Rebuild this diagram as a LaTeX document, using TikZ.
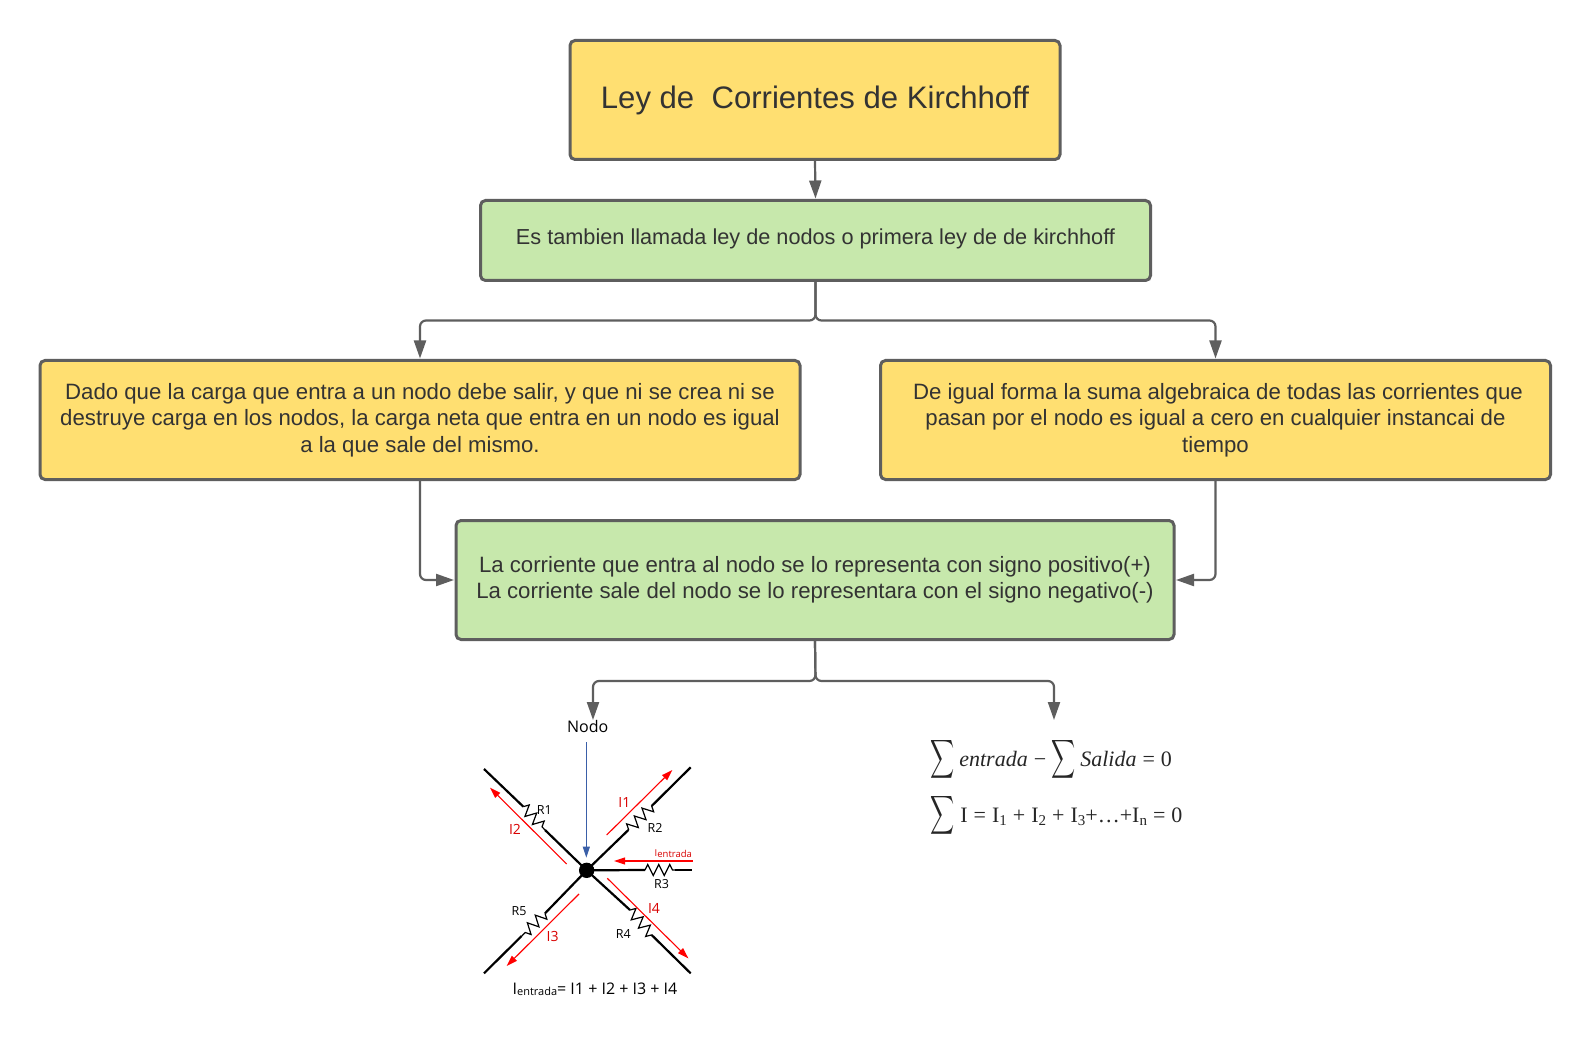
\documentclass[tikz,border=0pt]{standalone}
\usepackage{fontspec}
\setmainfont{Liberation Sans}
\newfontfamily\nodofont{Open Sans}
\newfontfamily\eqfont{Liberation Serif}
\usetikzlibrary{arrows.meta,decorations.pathmorphing}
\definecolor{yel}{HTML}{FFDF71}
\definecolor{gre}{HTML}{C7E8AC}
\definecolor{edge}{HTML}{5E5E5E}
\definecolor{txt}{HTML}{333333}
\definecolor{bl}{HTML}{3A5FA8}
\newcommand{\bigsumsym}{\raisebox{-7pt}{\scalebox{1.67}[2.7]{$\displaystyle\sum$}}}
\newcommand{\sbs}[1]{\raisebox{-3.5pt}{\fontsize{15}{16}\selectfont #1}}
\tikzset{
 box/.style={draw=edge,line width=3pt,rounded corners=5pt,align=center,text=txt,inner sep=0pt,font=\fontsize{22.2}{26.4}\selectfont},
 conn/.style={draw=edge,line width=2.2pt,rounded corners=6pt,-{Triangle[length=18pt,width=12pt]},shorten >=0.5pt},
 wire/.style={draw=black,line width=2.2pt},
 res/.style={draw=black,line width=1.2pt,decorate,decoration={zigzag,segment length=11pt,amplitude=5.5pt}},
 redarr/.style={draw=red,line width=1.1pt,-{Triangle[length=11pt,width=7pt]}},
 rl/.style={font=\nodofont\fontsize{12.5}{14}\selectfont,text=black,inner sep=0pt},
 il/.style={font=\nodofont\fontsize{14}{16}\selectfont,text=red!85!black,inner sep=0pt},
 eqn/.style={inner sep=0pt,anchor=base west,font=\eqfont\fontsize{22}{24}\selectfont,text=black!85},
}
\begin{document}
\begin{tikzpicture}[x=1pt,y=-1pt]
\useasboundingbox (0,0) rectangle (1590,1040);
\fill[white] (0,0) rectangle (1590,1040);
\node[box,fill=yel,minimum width=490pt,minimum height=119pt,font=\fontsize{31.1}{38}\selectfont] (a) at (815,100) {\raisebox{3pt}{Ley de\ \ Corrientes de Kirchhoff}};
\node[box,fill=gre,minimum width=670pt,minimum height=80pt] (b) at (815.5,240.5) {\fontsize{21.7}{26}\selectfont\raisebox{7pt}{Es tambien llamada ley de nodos o primera ley de de kirchhoff}};
\node[box,fill=yel,minimum width=760pt,minimum height=119pt] (c) at (420,420) {Dado que la carga que entra a un nodo debe salir, y que ni se crea ni se\\destruye carga en los nodos, la carga neta que entra en un nodo es igual\\a la que sale del mismo.};
\node[box,fill=yel,minimum width=670pt,minimum height=119pt] (d) at (1215.5,420) {\kern5pt De igual forma la suma algebraica de todas las corrientes que\\pasan por el nodo es igual a cero en cualquier instancai de\\tiempo};
\node[box,fill=gre,minimum width=718pt,minimum height=119pt] (e) at (815,580) {La corriente que entra al nodo se lo representa con signo positivo(+)\\La corriente sale del nodo se lo representara con el signo negativo(-)};
\coordinate (j1) at (815.5,320.5);
\coordinate (j2) at (815.5,681);
\coordinate (f) at (593,720);
\coordinate (g) at (1054,720);
\draw[conn] (a.south) -- (b.north);
\draw[conn] (b.south) -- (j1) -- (j1 -| c.north) -- (c.north);
\draw[conn] (b.south) -- (j1) -- (j1 -| d.north) -- (d.north);
\draw[conn] (c.south) |- (e.west);
\draw[conn] (d.south) |- (e.east);
\draw[conn,shorten >=0pt] (e.south) -- (j2) -- (j2 -| f) -- (f);
\draw[conn,shorten >=0pt] (e.south) -- (j2) -- (j2 -| g) -- (g);
% circuit
\begin{scope}[shift={(460,690)},x=0.33333pt,y=-0.33333pt]
\coordinate (dot) at (380,541);
\draw[wire] (72,237) -- (190,350); \draw[wire] (255,420) -- (dot);
\draw[res] (190,350) -- (255,420);
\draw[wire] (692,232) -- (575,348); \draw[wire] (505,420) -- (dot);
\draw[res] (575,348) -- (505,420);
\draw[wire] (dot) -- (555,540); \draw[wire] (645,540) -- (695,540);
\draw[res] (555,540) -- (645,540);
\draw[wire] (dot) -- (510,660); \draw[wire] (575,735) -- (692,850);
\draw[res] (510,660) -- (575,735);
\draw[wire] (dot) -- (255,670); \draw[wire] (185,738) -- (72,850);
\draw[res] (255,670) -- (185,738);
\fill[black] (dot) circle[radius=23];
\draw[redarr] (320,522) -- (90,293);
\draw[redarr] (440,435) -- (637,240);
\draw[redarr] (698,513) -- (462,513);
\draw[redarr] (442,565) -- (685,805);
\draw[redarr] (357,612) -- (140,828);
\node[font=\nodofont\fontsize{16}{18}\selectfont,text=black,inner sep=0pt] (nodo) at (383,108) {Nodo};
\coordinate (nb) at (379,157);
\draw[draw=bl,line width=1.1pt,-{Triangle[length=11pt,width=7pt]}] (nb) -- (379,503);
\node[rl] (r1) at (253,360) {R1};
\node[rl] (r2) at (585,413) {R2};
\node[rl] (r3) at (605,582) {R3};
\node[rl] (r4) at (490,732) {R4};
\node[rl] (r5) at (177,663) {R5};
\node[il] (i1) at (493,338) {I1};
\node[il] (i2) at (165,418) {I2};
\node[il] (i3) at (278,738) {I3};
\node[il] (i4) at (582,656) {I4};
\node[il,font=\nodofont\fontsize{9.5}{10}\selectfont] (ie) at (640,492) {I\raisebox{-1pt}{entrada}};
\node[font=\nodofont\fontsize{16}{18}\selectfont,text=black,inner sep=0pt] (eq0) at (405,897) {I\raisebox{-1pt}{\fontsize{11}{12}\selectfont entrada}= I1 + I2 + I3 + I4};
\end{scope}
\node[eqn] (eq1) at (930,766) {\bigsumsym\kern5pt\textit{entrada}\kern6pt−\kern5pt\bigsumsym\kern5pt\textit{Salida}\kern6pt=\kern6pt0};
\node[eqn] (eq2) at (930,822) {\bigsumsym\kern6pt I\kern6pt=\kern6pt I\sbs{1}\kern6pt+\kern6pt I\sbs{2}\kern6pt+\kern6pt I\sbs{3}+\ldots+I\sbs{n}\kern6pt=\kern6pt0};
\end{tikzpicture}
\end{document}
